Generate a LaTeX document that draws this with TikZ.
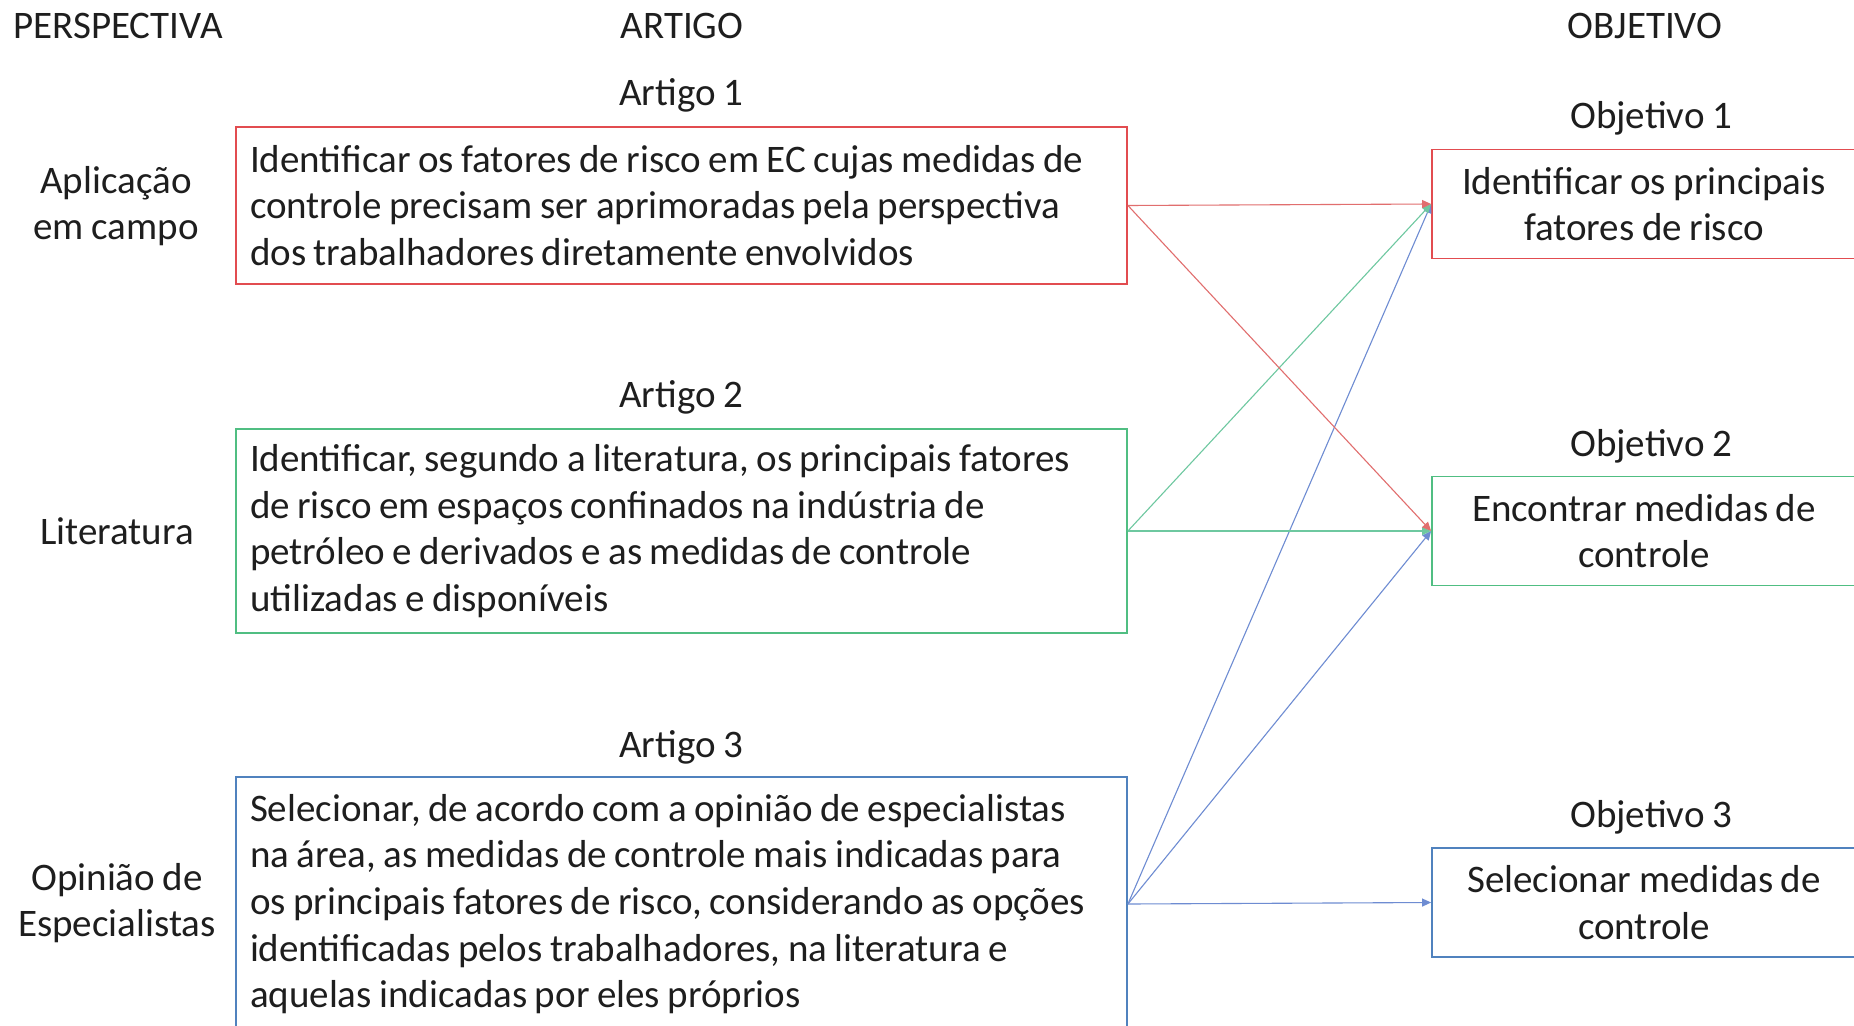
\documentclass[tikz,border=0pt]{standalone}
\usepackage{fontspec}
\setmainfont{Carlito}[WordSpace=0.85]
\usetikzlibrary{arrows.meta}
\definecolor{cred}{RGB}{226,76,80}
\definecolor{cgreen}{RGB}{80,190,130}
\definecolor{cblue}{RGB}{80,130,190}
\definecolor{lred}{RGB}{225,110,110}
\definecolor{lgreen}{RGB}{110,200,160}
\definecolor{lblue}{RGB}{110,140,210}
\definecolor{ctext}{RGB}{30,30,30}
\begin{document}
\begin{tikzpicture}[x=1pt,y=-1pt,
  every node/.style={text=ctext, font=\fontsize{39}{46.7}\selectfont},
  abox/.style={rectangle, line width=1.8pt, minimum width=891pt, text width=863pt, inner xsep=14pt, align=flush left},
  obox/.style={rectangle, line width=1.8pt, minimum width=424pt, inner xsep=10pt, align=center, minimum height=109pt},
  lbl/.style={inner sep=2pt, align=center},
  conn/.style={line width=1.1pt, -{Triangle[length=9pt,width=8pt]}}
]
\clip (0,0) rectangle (1854,1025);
\fill[white] (0,0) rectangle (1854,1025);

% headers
\node[lbl] (hp) at (118,26) {PERSPECTIVA};
\node[lbl] (ha) at (682,26) {ARTIGO};
\node[lbl] (ho) at (1645,26) {OBJETIVO};

% perspectives
\node[lbl] (p1) at (116,206) {Aplicação\\em campo};
\node[lbl] (p2) at (117,531) {Literatura};
\node[lbl] (p3) at (117,903) {Opinião de\\Especialistas};

% article labels
\node[lbl] (l1) at (681,95) {Artigo 1};
\node[lbl] (l2) at (681,397) {Artigo 2};
\node[lbl] (l3) at (681,747) {Artigo 3};

% article boxes
\node[abox, draw=cred, minimum height=157pt] (a1) at (681.5,205.5)
 {Identificar os fatores de risco em EC cujas medidas de\\controle precisam ser aprimoradas pela perspectiva\\dos trabalhadores diretamente envolvidos};
\node[abox, draw=cgreen, minimum height=204pt] (a2) at (681.5,531)
 {Identificar, segundo a literatura, os principais fatores\\de risco em espaços confinados na indústria de\\petróleo e derivados e as medidas de controle\\utilizadas e disponíveis};
\node[abox, draw=cblue, minimum height=254pt] (a3) at (681.5,904)
 {Selecionar, de acordo com a opinião de especialistas\\na área, as medidas de controle mais indicadas para\\os principais fatores de risco, considerando as opções\\identificadas pelos trabalhadores, na literatura e\\aquelas indicadas por eles próprios};

% objective labels
\node[lbl] (m1) at (1651,118) {Objetivo 1};
\node[lbl] (m2) at (1651,446) {Objetivo 2};
\node[lbl] (m3) at (1651,817) {Objetivo 3};

% objective boxes
\node[obox, draw=cred] (o1) at (1644,204) {Identificar os principais\\fatores de risco};
\node[obox, draw=cgreen] (o2) at (1644,531) {Encontrar medidas de\\controle};
\node[obox, draw=cblue] (o3) at (1644,902.5) {Selecionar medidas de\\controle};

% connectors
\draw[conn, lblue] (a3.east) -- (o1.west);
\draw[conn, lblue] (a3.east) -- (o2.west);
\draw[conn, lblue] (a3.east) -- (o3.west);
\draw[conn, lgreen] (a2.east) -- (o1.west);
\draw[conn, lgreen] (a2.east) -- (o2.west);
\draw[conn, lred] (a1.east) -- (o1.west);
\draw[conn, lred] (a1.east) -- (o2.west);
\end{tikzpicture}
\end{document}
